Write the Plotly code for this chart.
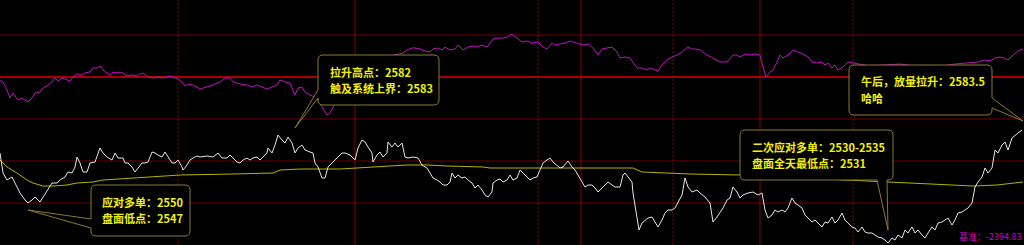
import plotly.graph_objects as go

# ---------------- data ----------------
# tick index (x) and last price of the main contract (white line)
TICK_X = [0,3,7,12,15,20,25,28,32,35,40,43,47,52,57,60,65,68,72,75,77,80,83,87,90,95,100,103,107,112,115,118,123,125,128,132,135,138,142,145,148,152,155,158,162,165,168,172,175,178,182,183,187,190,193,197,200,207,213,218,222,227,230,233,237,240,243,247,250,253,257,260,263,267,268,272,275,278,282,285,288,292,295,298,302,305,310,313,315,318,322,325,328,332,335,338,342,345,350,355,358,362,365,368,372,373,377,380,383,387,388,392,395,398,402,405,408,413,418,422,427,430,433,437,440,443,447,450,452,455,458,462,465,468,472,475,478,482,485,488,492,493,497,500,503,507,510,513,517,520,523,527,530,533,537,540,543,547,550,553,557,560,563,568,572,575,578,582,585,588,592,595,598,602,605,608,612,615,620,623,625,628,632,633,635,637,639,642,645,648,652,655,658,662,665,668,672,675,678,682,685,688,692,697,700,705,710,713,717,720,723,727,730,733,737,740,743,748,753,758,762,765,768,772,775,778,782,785,788,792,795,798,802,805,808,812,815,818,822,825,828,832,835,838,842,845,848,852,855,858,862,865,868,872,875,878,882,885,888,892,895,898,902,905,908,912,915,918,922,925,928,932,935,938,942,945,948,952,955,958,962,965,968,972,975,978,982,985,988,992,995,998,1002,1005,1008,1012,1015,1018,1022]
PRICE = [2573,2563,2559.5,2561,2558,2553,2549.5,2548,2549.5,2551,2548.5,2551,2554.5,2558,2558,2559.5,2561,2563.5,2563,2566,2571,2568,2563.5,2563.5,2568,2568.5,2575.5,2573,2571,2569.5,2573,2570.5,2570.5,2568,2568,2566,2563.5,2565.5,2568,2568,2568.5,2573.5,2573,2572,2571,2573.5,2571,2568,2568,2569.5,2566,2564.5,2567,2569.5,2570.5,2571.5,2571,2571.5,2571,2573,2570.5,2570.5,2572,2570.5,2568.5,2568,2569.5,2570.5,2569.5,2570.5,2571,2569.5,2571,2573,2575.5,2573,2577,2582,2579.5,2578,2581,2578,2573,2575.5,2577,2574.5,2573.5,2573,2568,2566,2560.5,2560.5,2566,2568,2569.5,2571,2573,2573,2572,2569.5,2575.5,2579.5,2578.5,2576,2573,2568.5,2572,2573.5,2571,2573,2578.5,2576,2578,2576,2578,2571,2570.5,2571,2570.5,2567,2565.5,2563,2560.5,2559.5,2558.5,2557,2557,2558.5,2563,2560.5,2562,2560.5,2561,2559.5,2558,2555.5,2557,2554.5,2552,2551,2553.5,2558,2559.5,2560,2558.5,2559.5,2562,2559.5,2560.5,2564.5,2563,2560.5,2559.5,2560.5,2561,2564.5,2568,2569.5,2570.5,2568.5,2567,2565.5,2566,2569,2566,2564.5,2562,2558.5,2556,2557,2557,2555.5,2553.5,2555.5,2557,2558.5,2557,2556,2556,2562,2563,2561,2558.5,2553,2546,2539.5,2534.5,2538,2539.5,2540.5,2541,2538.5,2536,2539.5,2543,2544.5,2544.5,2545.5,2548,2552,2560.5,2556,2553.5,2554.5,2553,2551,2548,2538.5,2541,2543,2545.5,2549.5,2550.5,2556,2553.5,2550.5,2552,2553,2553.5,2552,2553,2544.5,2540.5,2542,2544.5,2543.5,2544.5,2543.5,2545.5,2550.5,2548,2547,2545.5,2542,2540.5,2538.5,2539.5,2538,2536,2538.5,2538,2541,2538,2539.5,2543,2539.5,2538,2536,2535.5,2533.5,2536,2533.5,2533,2533,2532,2531,2530.5,2529.5,2528,2530.5,2529.5,2532,2530.5,2534.5,2533,2536,2533,2534.5,2532,2530.5,2533,2536,2534.5,2538,2538.5,2539.5,2540.5,2537,2539.5,2543,2543.5,2544.5,2545.5,2548,2556,2558.5,2561,2565.5,2563,2565.5,2574.5,2573,2577,2578.5,2574.5,2580.5,2582,2583,2584.5]

# average price (yellow line)
AVG_X = [0,7,17,27,33,43,53,67,77,93,103,133,167,180,233,260,273,280,300,340,370,407,427,447,483,490,547,583,633,642,660,690,740,863,887,913,947,973,997,1023]
AVG_P = [2569.5,2566,2563,2559.5,2558,2556.5,2556.5,2557,2558,2558.5,2559.5,2560.5,2561.5,2562,2562.5,2563,2563,2564.5,2565,2565,2566,2567,2567,2566.5,2566,2565.5,2565.5,2565.5,2565.5,2563.5,2563,2562.5,2562,2559,2558.5,2558,2557,2556.5,2557,2558.5]

# spread indicator (magenta line), deviation from its baseline
SPREAD_X = [0,3,7,10,13,18,22,25,28,32,35,40,43,48,52,55,58,62,67,70,73,77,82,85,90,93,97,100,103,107,110,113,117,120,123,127,132,137,140,143,148,153,158,163,167,170,173,178,182,185,188,193,200,207,213,220,225,230,233,240,247,252,257,262,267,272,277,280,285,290,295,298,302,305,310,315,318,322,327,330,333,345,360,375,390,403,407,412,415,420,425,430,433,438,442,445,450,455,458,463,468,473,477,482,487,493,498,503,508,512,515,518,522,527,532,538,543,547,552,555,560,565,570,573,578,583,588,593,598,602,607,612,617,620,625,630,637,642,647,650,655,658,662,667,672,677,682,685,688,692,695,700,707,713,720,727,730,733,737,740,745,750,755,760,763,766,770,773,777,780,783,788,793,798,803,808,812,817,822,825,828,832,835,838,843,848,870,900,930,955,972,978,985,990,995,1000,1004,1008,1013,1018,1023]
SPREAD_D = [-1.5,-2.5,-6.5,-10.5,-8,-11.5,-10.5,-11.5,-12.5,-10.5,-8,-7.5,-5.5,-4,-2.5,-0.5,-2,-0.5,-1.5,-2,0,1.5,1,2,2.5,4.5,4.5,5.5,3.5,2,1,2.5,2,2.5,2,0.5,1,0.5,1.5,2,0,-0.5,0,-0.5,0,0.5,0,-1,-2.5,-4.5,-3.5,-4,-6,-5,-4,-2.5,-0.5,-0.5,-2.5,-3.5,-4,-5,-4,-5,-6,-5,-4,-1.5,-2.5,-3,-9,-5.5,-5,-7.5,-9,-10,-11.5,-15,-19,-18,-15,-9,1,7.5,10.5,12,13.5,14.5,14.5,14,13,12.5,14,14.5,13.5,15,13.5,14,16,13.5,15,15.5,15,16,15,19,19.5,19.5,20,21.5,20,19,17.5,18,17,17.5,15,14,17,16,16.5,17,18,17.5,17,16,16.5,14.5,11,14,14.5,15,12.5,9.5,10,9.5,4.5,4.5,3.5,4.5,3.5,3,6,8.5,10,11,12.5,14,15,14,14,13.5,11,9.5,7.5,7.5,9.5,11,11,10,11.5,11,11.5,11,5,0,2.5,3.5,7.5,11,9.5,11,13.5,12.5,11.5,10,7.5,7,7.5,6,7,4.5,6,3.5,5,7.5,5.5,6.5,4.5,6.5,7,7.5,8.5,8,9.5,10,9.5,8.5,11,13,14]
BASELINE_TEXT = "基准：-2394.83"

SESSION_SOLID = [355, 581, 760]
SESSION_DOT = [178, 538, 673, 853]
PRICE_GRID = [2548, 2569, 2590, 2632]

CALLOUTS = [
    {"x": 28, "p": 2544.5, "lines": ["应对多单：2550", "盘面低点：2547"]},
    {"x": 295, "p": 2585.5, "lines": ["拉升高点：2582", "触及系统上界：2583"]},
    {"x": 888, "p": 2534.5, "lines": ["二次应对多单：2530-2535", "盘面全天最低点：2531"]},
    {"x": 1023, "p": 2589, "lines": ["午后，放量拉升：2583.5", "哈哈"]},
]

# ---------------- styling / geometry ----------------
X_RANGE = [0, 1024]
Y_RANGE = [2527, 2649.5]
Y2_RANGE = [-84, 38.5]

# bubble geometry in pixels relative to the tip (screen coords, y down)
GEOM = [
    dict(L=63, T=-25, R=162, B=26, edge="left", bases=[9, 18], tx=72, ty=[-8, 8]),
    dict(L=23, T=-73, R=144, B=-23, edge="left", bases=[-38, -30], tx=33, ty=[-56, -40]),
    dict(L=-148, T=-100, R=5, B=-50, edge="bottom", bases=[-11, -1], tx=-138, ty=[-83, -67]),
    dict(L=-174, T=-56, R=-31, B=-6, edge="right", bases=[-23, -13], tx=-164, ty=[-40, -23]),
]

BORDER = "#8a7838"
TEXT_COL = "#f2f200"
FONT = "Noto Sans CJK SC"
GRID_COL = "#6e0000"


def bubble_path(g, r=5):
    L, T, R, B = g["L"], g["T"], g["R"], g["B"]

    def P(x, y):
        return f"{x},{-y}"

    s = [f"M {P(L + r, T)}", f"L {P(R - r, T)}", f"Q {P(R, T)} {P(R, T + r)}"]
    if g["edge"] == "right":
        a, b = sorted(g["bases"])
        s += [f"L {P(R, a)}", f"L {P(0, 0)}", f"L {P(R, b)}"]
    s += [f"L {P(R, B - r)}", f"Q {P(R, B)} {P(R - r, B)}"]
    if g["edge"] == "bottom":
        a, b = sorted(g["bases"], reverse=True)
        s += [f"L {P(a, B)}", f"L {P(0, 0)}", f"L {P(b, B)}"]
    s += [f"L {P(L + r, B)}", f"Q {P(L, B)} {P(L, B - r)}"]
    if g["edge"] == "left":
        a, b = sorted(g["bases"], reverse=True)
        s += [f"L {P(L, a)}", f"L {P(0, 0)}", f"L {P(L, b)}"]
    s += [f"L {P(L, T + r)}", f"Q {P(L, T)} {P(L + r, T)}", "Z"]
    return " ".join(s)


fig = go.Figure()
fig.add_trace(go.Scatter(x=SPREAD_X, y=SPREAD_D, mode="lines", yaxis="y2",
                         line=dict(color="#c010c0", width=1), hoverinfo="skip"))
fig.add_trace(go.Scatter(x=AVG_X, y=AVG_P, mode="lines",
                         line=dict(color="#b4b400", width=1), hoverinfo="skip"))
fig.add_trace(go.Scatter(x=TICK_X, y=PRICE, mode="lines",
                         line=dict(color="#e6e6e6", width=1), hoverinfo="skip"))

shapes = []
for pv in PRICE_GRID:
    shapes.append(dict(type="line", xref="paper", yref="y", x0=0, x1=1, y0=pv, y1=pv,
                       line=dict(color=GRID_COL, width=1), layer="below"))
for xv in SESSION_SOLID:
    shapes.append(dict(type="line", xref="x", yref="paper", x0=xv, x1=xv, y0=0, y1=1,
                       line=dict(color="#880000", width=1), layer="below"))
for xv in SESSION_DOT:
    shapes.append(dict(type="line", xref="x", yref="paper", x0=xv, x1=xv, y0=0, y1=1,
                       line=dict(color="#880000", width=1, dash="2px,2px"), layer="below"))
shapes.append(dict(type="line", xref="paper", yref="y2", x0=0, x1=1, y0=0, y1=0,
                   line=dict(color="#a80000", width=2), layer="below"))

annotations = []
for c, g in zip(CALLOUTS, GEOM):
    shapes.append(dict(type="path", xref="x", yref="y", xsizemode="pixel", ysizemode="pixel",
                       xanchor=c["x"], yanchor=c["p"], path=bubble_path(g),
                       fillcolor="#000000", line=dict(color=BORDER, width=1), layer="above"))
    for line, ty in zip(c["lines"], g["ty"]):
        annotations.append(dict(x=c["x"], y=c["p"], xref="x", yref="y", xshift=g["tx"], yshift=-ty,
                                text=f"<b>{line}</b>", showarrow=False, xanchor="left", yanchor="middle",
                                font=dict(family=FONT, size=11, color=TEXT_COL)))

annotations.append(dict(x=1, y=0, xref="paper", yref="paper", xanchor="right", yanchor="bottom",
                        text=BASELINE_TEXT, showarrow=False,
                        font=dict(family=FONT, size=9, color="#cc00cc")))

fig.update_layout(
    width=1024, height=245, margin=dict(l=0, r=0, t=0, b=0),
    paper_bgcolor="#000000", plot_bgcolor="#000000", showlegend=False,
    xaxis=dict(range=X_RANGE, showgrid=False, zeroline=False, showticklabels=False, fixedrange=True),
    yaxis=dict(range=Y_RANGE, showgrid=False, zeroline=False, showticklabels=False),
    yaxis2=dict(range=Y2_RANGE, overlaying="y", showgrid=False, zeroline=False, showticklabels=False),
    shapes=shapes, annotations=annotations,
)

fig.write_html("out.html")
